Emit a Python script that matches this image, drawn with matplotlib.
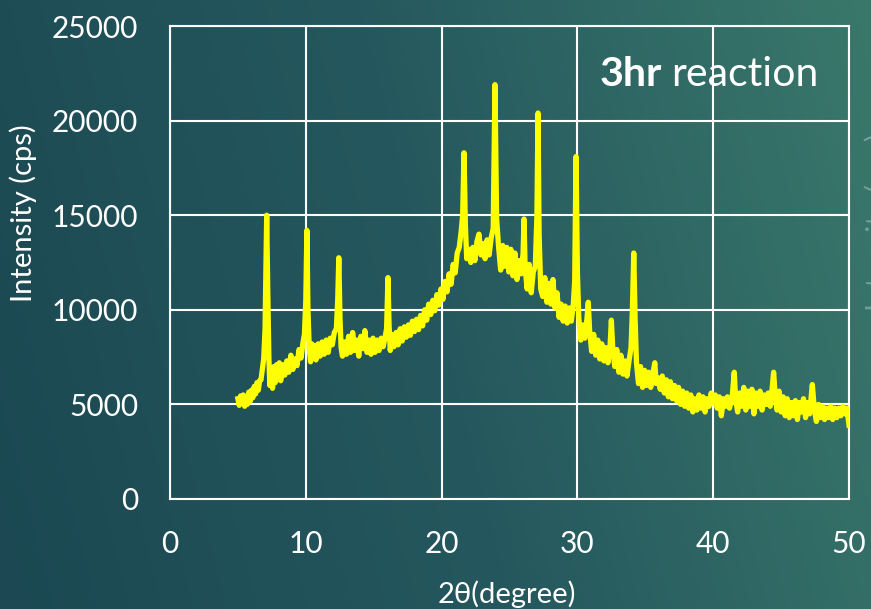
import numpy as np
import matplotlib
matplotlib.use("Agg")
import matplotlib.pyplot as plt
from matplotlib.colors import LinearSegmentedColormap

# Patrón XRD, muestra de 3 h de reacción
two_theta = [
    5.0, 5.1, 5.2, 5.3, 5.4, 5.5, 5.6, 5.7, 5.8, 5.9, 6.0, 6.1, 6.2, 6.3, 6.4, 6.5,
    6.6, 6.7, 6.8, 6.9, 7.0, 7.05, 7.12, 7.2, 7.28, 7.35, 7.45, 7.55, 7.65, 7.75,
    7.85, 7.95, 8.05, 8.15, 8.3, 8.45, 8.6, 8.75, 8.9, 9.05, 9.2, 9.35, 9.5, 9.65,
    9.8, 9.9, 10.0, 10.08, 10.16, 10.25, 10.35, 10.45, 10.55, 10.65, 10.75, 10.9,
    11.05, 11.2, 11.35, 11.5, 11.65, 11.8, 11.95, 12.1, 12.25, 12.35, 12.43, 12.52,
    12.6, 12.7, 12.85, 13.0, 13.15, 13.3, 13.45, 13.6, 13.75, 13.9, 14.05, 14.2,
    14.35, 14.5, 14.65, 14.8, 14.95, 15.1, 15.25, 15.4, 15.55, 15.7, 15.85, 15.95,
    16.05, 16.13, 16.22, 16.35, 16.5, 16.65, 16.8, 16.95, 17.1, 17.25, 17.4, 17.55,
    17.7, 17.85, 18.0, 18.15, 18.3, 18.45, 18.6, 18.75, 18.9, 19.05, 19.2, 19.35,
    19.5, 19.65, 19.8, 19.95, 20.1, 20.25, 20.4, 20.55, 20.7, 20.85, 21.0, 21.15,
    21.3, 21.45, 21.55, 21.65, 21.75, 21.85, 22.0, 22.15, 22.3, 22.45, 22.6, 22.75,
    22.9, 23.05, 23.2, 23.35, 23.5, 23.65, 23.8, 23.93, 24.05, 24.2, 24.35, 24.5,
    24.65, 24.8, 24.95, 25.1, 25.25, 25.4, 25.55, 25.7, 25.85, 26.0, 26.07, 26.15,
    26.3, 26.45, 26.6, 26.75, 26.9, 27.02, 27.1, 27.18, 27.3, 27.45, 27.6, 27.75,
    27.9, 28.05, 28.2, 28.35, 28.5, 28.65, 28.8, 28.95, 29.1, 29.25, 29.4, 29.55,
    29.7, 29.8, 29.9, 30.0, 30.1, 30.25, 30.4, 30.55, 30.7, 30.8, 30.9, 31.05,
    31.2, 31.35, 31.5, 31.65, 31.8, 31.95, 32.1, 32.25, 32.4, 32.5, 32.6, 32.75,
    32.9, 33.05, 33.2, 33.35, 33.5, 33.65, 33.8, 33.95, 34.05, 34.15, 34.25, 34.35,
    34.5, 34.65, 34.8, 34.95, 35.1, 35.25, 35.4, 35.55, 35.7, 35.8, 35.95, 36.1,
    36.25, 36.4, 36.55, 36.7, 36.85, 37.0, 37.15, 37.3, 37.45, 37.6, 37.75, 37.9,
    38.05, 38.2, 38.35, 38.5, 38.65, 38.8, 38.95, 39.1, 39.25, 39.4, 39.55, 39.7,
    39.85, 40.0, 40.15, 40.3, 40.45, 40.6, 40.75, 40.9, 41.05, 41.2, 41.4, 41.55,
    41.65, 41.8, 41.95, 42.1, 42.25, 42.4, 42.55, 42.7, 42.85, 43.0, 43.15, 43.3,
    43.45, 43.6, 43.75, 43.9, 44.05, 44.2, 44.35, 44.45, 44.55, 44.7, 44.85, 45.0,
    45.15, 45.3, 45.45, 45.6, 45.75, 45.9, 46.05, 46.2, 46.35, 46.5, 46.65, 46.8,
    46.95, 47.1, 47.3, 47.45, 47.6, 47.75, 47.9, 48.05, 48.2, 48.35, 48.5, 48.65,
    48.8, 48.95, 49.1, 49.25, 49.4, 49.55, 49.7, 49.85, 50.0,
]
intensity = [
    5300, 4950, 5450, 5050, 5500, 4900, 5350, 5000, 5650, 5150, 5750, 5350, 5950, 5550, 6150, 5750,
    6250, 6300, 6850, 7400, 9000, 11500, 15000, 11000, 7500, 6000, 6900, 5850, 7000, 6150,
    7100, 6350, 7200, 6250, 7100, 6550, 7300, 6700, 7600, 6850, 7400, 7050, 7900, 7450,
    8300, 8700, 10500, 14200, 10000, 8000, 7250, 8200, 7450, 8100, 7350, 8200,
    7550, 8300, 7650, 8400, 7750, 8500, 8150, 8800, 9000, 10500, 12750, 9500,
    8000, 7550, 8300, 7650, 8600, 7750, 8800, 7850, 8400, 7550, 8600, 7950,
    8900, 7750, 8400, 7650, 8500, 7750, 8400, 7850, 8500, 8050, 8600, 9000,
    11700, 9200, 7850, 8700, 8050, 8800, 8150, 9000, 8350, 9100, 8550, 9200,
    8650, 9400, 8850, 9500, 8950, 9700, 9150, 10000, 9450, 10300, 9750, 10500,
    9950, 10800, 10250, 11100, 10550, 11500, 10950, 11900, 11350, 12400, 11950, 13000,
    13300, 14200, 15000, 18300, 14500, 12700, 13200, 12500, 13300, 12600, 13600, 14000,
    12900, 13500, 12700, 13700, 12900, 13800, 14300, 21900, 14800, 13300, 12100, 13400,
    12300, 13300, 12000, 13200, 11800, 13000, 11600, 12600, 11900, 13000, 14800, 12200,
    11100, 12400, 10900, 12000, 12300, 15000, 20400, 14000, 11100, 10700, 11700, 10400,
    11400, 10300, 11600, 10100, 10900, 9600, 10300, 9400, 10200, 9300, 10100, 9400,
    10300, 11500, 18100, 12000, 9600, 8400, 9200, 8500, 9500, 10400, 8900, 7800,
    8700, 7600, 8400, 7400, 8200, 7300, 8000, 7200, 8000, 9450, 8000, 7000,
    7900, 6700, 7600, 6600, 7300, 6500, 7300, 8000, 10000, 13000, 9500, 7200,
    6100, 7000, 5900, 6800, 6000, 6700, 5900, 6600, 7200, 6100, 6400, 5800,
    6500, 5600, 6300, 5400, 6200, 5300, 6000, 5200, 5900, 5000, 5700, 4900,
    5600, 4800, 5500, 4600, 5300, 4700, 5500, 4800, 5400, 4600, 5300, 4900,
    5600, 5100, 5500, 4800, 5400, 4400, 5300, 4900, 5400, 4800, 5400, 6700,
    5300, 4600, 5600, 4900, 5900, 4700, 5700, 4900, 5800, 4500, 5600, 4900,
    5700, 4700, 5500, 5000, 5600, 4900, 5900, 6700, 5600, 4700, 5700, 4600,
    5400, 4400, 5300, 4300, 5100, 4400, 5200, 4200, 5100, 4600, 5300, 4300,
    5100, 4500, 6050, 4700, 4100, 5000, 4300, 4900, 4200, 4800, 4300, 4900,
    4200, 4800, 4300, 4800, 4400, 4900, 4500, 4800, 3900,
]

x_ticks = [0, 10, 20, 30, 40, 50]
y_ticks = [0, 5000, 10000, 15000, 20000, 25000]

W, H = 871, 609
fig = plt.figure(figsize=(W / 100, H / 100), dpi=100)

# Fondo degradado verde azulado
bg = fig.add_axes([0, 0, 1, 1], zorder=0)
cmap = LinearSegmentedColormap.from_list("fondo", ["#1b4852", "#25585e", "#3a786b"])
gx = np.linspace(0, 1, 300)
gy = np.linspace(0, 1, 200)
GX, GY = np.meshgrid(gx, gy)
bg.imshow(0.85 * GX + 0.15 * GY, cmap=cmap, aspect="auto", extent=[0, 1, 0, 1], origin="lower")
bg.axis("off")

ax = fig.add_axes([170 / W, 1 - 499 / H, 679 / W, 473 / H], zorder=1)
ax.patch.set_alpha(0)
ax.plot(two_theta, intensity, color="#ffff00", lw=3.8, solid_joinstyle="round", zorder=3)

ax.set_xlim(0, 50)
ax.set_ylim(0, 25000)
ax.set_xticks(x_ticks)
ax.set_yticks(y_ticks)
ax.grid(True, color="white", lw=1.5)
ax.set_axisbelow(True)
for s in ax.spines.values():
    s.set_color("white")
    s.set_linewidth(1.5)
ax.tick_params(length=0, labelcolor="white", labelsize=21.5)
ax.tick_params(axis="x", pad=22)
ax.tick_params(axis="y", pad=23)
for lab in ax.get_xticklabels() + ax.get_yticklabels():
    lab.set_family("Lato")

ax.set_xlabel("2θ(degree)", color="white", fontsize=21, family="Lato")
ax.set_ylabel("Intensity (cps)", color="white", fontsize=21, family="Lato")
ax.xaxis.set_label_coords((507 - 170) / 679, (499 - 580) / 473)
ax.yaxis.set_label_coords((9 - 170) / 679, (499 - 213) / 473)
ax.yaxis.label.set_va("top")

# Etiqueta de la muestra
t1 = fig.text(600 / W, 1 - 86 / H, "3hr", color="white", fontsize=29.5,
              family="Lato", fontweight="bold", va="baseline", ha="left", zorder=5)
fig.canvas.draw()
bb = t1.get_window_extent()
fig.text((bb.x1 + 9) / W, 1 - 86 / H, "reaction", color="white", fontsize=29.5,
         family="Lato", va="baseline", ha="left", zorder=5)

# Eje del gráfico vecino, cortado en el borde
fig.text(864 / W, 1 - 222 / H, "Intensity (cps)", rotation=90, color="white", alpha=0.3,
         fontsize=21, family="Lato", ha="left", va="center")

fig.savefig("out.png", dpi=100)
